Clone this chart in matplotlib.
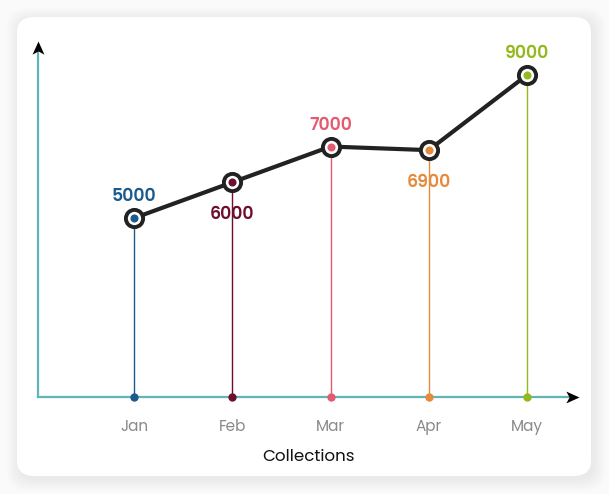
import matplotlib
matplotlib.use("Agg")
import matplotlib.pyplot as plt
from matplotlib.patches import FancyBboxPatch
from matplotlib.path import Path

months = ["Jan", "Feb", "Mar", "Apr", "May"]
values = [5000, 6000, 7000, 6900, 9000]
colors = ["#1b5a8c", "#6e0f30", "#e35b6f", "#e68a3c", "#93b91d"]
label_above = [True, False, True, False, True]
x_title = "Collections"

plt.rcParams['font.family'] = ['Poppins', 'Lato', 'DejaVu Sans']

W, H = 609, 494
fig = plt.figure(figsize=(W / 100, H / 100), dpi=100)
fig.patch.set_facecolor("#fafafa")

# card with soft shadow
for i in range(8):
    pad = (8 - i) * 1.5
    sh = FancyBboxPatch(((17 - pad + 2) / W, (H - 476 - pad - 3) / H),
                        (574 + 2 * pad) / W, (459 + 2 * pad) / H,
                        boxstyle="round,pad=0,rounding_size=0.035",
                        transform=fig.transFigure, facecolor="#000000",
                        alpha=0.006, edgecolor="none", zorder=0)
    fig.patches.append(sh)
card = FancyBboxPatch((17 / W, (H - 476) / H), 574 / W, 459 / H,
                      boxstyle="round,pad=0,rounding_size=0.03",
                      transform=fig.transFigure, facecolor="white",
                      edgecolor="none", zorder=1)
fig.patches.append(card)

left, right, bottom, top = 38, 579, 397, 41
ax = fig.add_axes([left / W, (H - bottom) / H, (right - left) / W, (bottom - top) / H])
ax.set_facecolor("none")
ax.set_zorder(2)

xs = list(range(len(months)))
ppx = (527 - 134) / 4
ax.set_xlim(-(134 - left) / ppx, 4 + (right - 527) / ppx)
ppy = (397 - 75) / 9000
ax.set_ylim(0, (bottom - top) / ppy)

for s in ax.spines.values():
    s.set_visible(False)
ax.set_yticks([])
ax.set_xticks(xs)
ax.set_xticklabels(months, color="#8a8a8a", fontsize=11)
ax.tick_params(axis="x", length=0, pad=16)
ax.set_xlabel(x_title, fontsize=12, color="#111111", labelpad=10)

teal = "#62b4b9"
ax.plot([0, 0.985], [0, 0], transform=ax.transAxes, color=teal, lw=1.6, clip_on=False, zorder=1)
ax.plot([0, 0], [0, 0.98], transform=ax.transAxes, color=teal, lw=1.6, clip_on=False, zorder=1)

stealth_r = Path([(0, 0), (-1, 0.45), (-0.75, 0), (-1, -0.45), (0, 0)],
                 [Path.MOVETO, Path.LINETO, Path.LINETO, Path.LINETO, Path.CLOSEPOLY])
stealth_u = Path([(0, 0), (0.45, -1), (0, -0.75), (-0.45, -1), (0, 0)],
                 [Path.MOVETO, Path.LINETO, Path.LINETO, Path.LINETO, Path.CLOSEPOLY])
ax.plot([1.0], [0], transform=ax.transAxes, marker=stealth_r, ms=19, color="black",
        mew=0, clip_on=False, zorder=3)
ax.plot([0], [1.0], transform=ax.transAxes, marker=stealth_u, ms=19, color="black",
        mew=0, clip_on=False, zorder=3)

for x, v, c in zip(xs, values, colors):
    ax.plot([x, x], [0, v], color=c, lw=1.0, zorder=2)
    ax.plot([x], [0], "o", color=c, ms=5, zorder=3, clip_on=False)

ax.plot(xs, values, color="#222222", lw=3.0, zorder=4, solid_capstyle="round")
ax.plot(xs, values, "o", ms=12.4, mfc="white", mec="#222222", mew=2.8, zorder=5)
for x, v, c, up in zip(xs, values, colors, label_above):
    ax.plot([x], [v], "o", ms=4.8, color=c, zorder=6)
    off = 21 if up else -33
    ax.annotate(f"{v}", (x, v), xytext=(0, off * 0.72), textcoords="offset points",
                ha="center", va="center", color=c, fontsize=12.5, fontweight="semibold",
                zorder=7)

fig.savefig("out.png", dpi=100, facecolor=fig.get_facecolor())
